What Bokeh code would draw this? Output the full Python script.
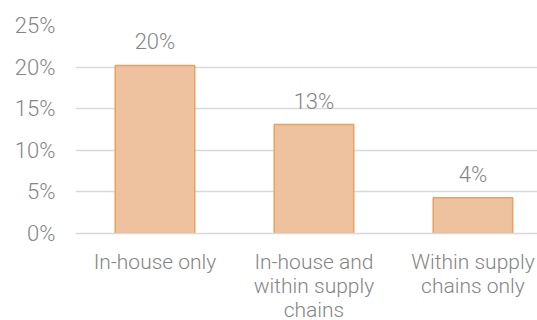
from bokeh.plotting import figure
from bokeh.models import Range1d, FixedTicker, ColumnDataSource
from bokeh.core.properties import value
from bokeh.embed import file_html
from bokeh.resources import INLINE

categories = ["In-house only", "In-house and\nwithin supply\nchains", "Within supply\nchains only"]
shares = [20.2, 13.1, 4.3]
share_labels = ["20%", "13%", "4%"]
y_ticks = [0, 5, 10, 15, 20, 25]

FONT = "Roboto Light"
TEXT_COLOR = "#858585"
GRID_COLOR = "#D9D9D9"

xs = [i + 0.5 for i in range(len(categories))]
src = ColumnDataSource(dict(x=xs, top=shares, lab=share_labels))

p = figure(frame_width=462, frame_height=208, output_backend="svg", toolbar_location=None,
           x_range=Range1d(0, 2.906), y_range=Range1d(0, 25),
           min_border_left=75, min_border_right=0, min_border_top=25, min_border_bottom=87)
p.outline_line_color = None
p.background_fill_color = "white"

p.vbar(x="x", top="top", width=0.5, bottom=0, source=src,
       fill_color="#EEC29F", line_color="#E8A15E", line_width=1.5)
p.text(x="x", y="top", text="lab", source=src, text_align="center", text_baseline="bottom",
       y_offset=-11, text_font=value(FONT), text_font_size="22px", text_color=TEXT_COLOR)

p.xgrid.visible = False
p.ygrid.ticker = FixedTicker(ticks=y_ticks)
p.ygrid.grid_line_color = GRID_COLOR
p.ygrid.grid_line_width = 1.5

p.yaxis.ticker = FixedTicker(ticks=y_ticks)
p.yaxis.major_label_overrides = {t: f"{t}%" for t in y_ticks}
p.yaxis.axis_line_color = None
p.yaxis.major_tick_line_color = None
p.yaxis.minor_tick_line_color = None
p.yaxis.major_label_standoff = 14
p.yaxis.major_label_text_font = FONT
p.yaxis.major_label_text_font_size = "22px"
p.yaxis.major_label_text_color = TEXT_COLOR

p.xaxis.ticker = FixedTicker(ticks=xs)
p.xaxis.major_label_overrides = {x: c for x, c in zip(xs, categories)}
p.xaxis.axis_line_color = GRID_COLOR
p.xaxis.axis_line_width = 1.5
p.xaxis.major_tick_line_color = None
p.xaxis.minor_tick_line_color = None
p.xaxis.major_label_standoff = 10
p.xaxis.major_label_text_font = FONT
p.xaxis.major_label_text_font_size = "21px"
p.xaxis.major_label_text_line_height = 1.0
p.xaxis.major_label_text_color = TEXT_COLOR

html = file_html(p, INLINE)
html = html.replace("</head>", "<style>html, body { overflow: hidden; }</style></head>", 1)
open("out.html", "w").write(html)
